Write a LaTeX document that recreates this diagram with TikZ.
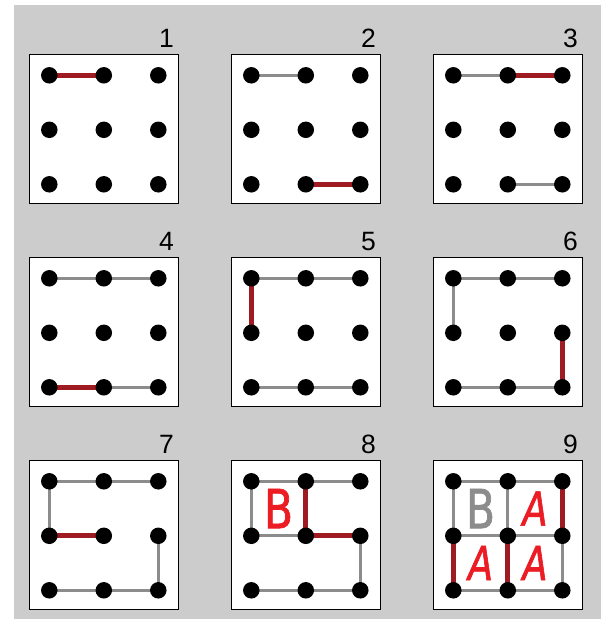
\documentclass[tikz,border=0pt]{standalone}
\usepackage{fontspec}
\setmainfont{Liberation Sans}
\newfontfamily\handfont[FakeStretch=0.78, FakeBold=1.3]{DejaVu Sans}
\usetikzlibrary{calc}
\definecolor{bggray}{RGB}{204,204,204}
\definecolor{oldgray}{RGB}{140,140,140}
\definecolor{newred}{RGB}{158,27,33}
\definecolor{markred}{RGB}{236,28,36}
\pgfdeclarelayer{boards}
\pgfdeclarelayer{edges}
\pgfsetlayers{boards,edges,main}
\begin{document}
\begin{tikzpicture}[x=1pt, y=-1pt,
    board/.style={draw=black, line width=1.3pt, fill=white, minimum size=149pt, inner sep=0pt},
    dot/.style={circle, fill=black, minimum size=16.5pt, inner sep=0pt},
    num/.style={anchor=base east, inner sep=0pt, font=\fontsize{26.5}{30}\selectfont},
    old/.style={draw=oldgray, line width=3pt},
    new/.style={draw=newred, line width=5pt},
    letter/.style={text=markred, inner sep=0pt},
    lettera/.style={letter, font=\handfont\itshape\fontsize{47}{47}\selectfont},
    letterb/.style={letter, font=\handfont\fontsize{54}{54}\selectfont}]
  \useasboundingbox (0,0) rectangle (603,619);
  \begin{pgfonlayer}{boards}
    \fill[bggray] (14,5) rectangle (601,619);
  \end{pgfonlayer}
  % boards, numbers and dots
  \foreach \k/\px/\py in {1/29.3/54.3, 2/231.3/54.3, 3/433.3/54.3,
                          4/29.3/257.3, 5/231.3/257.3, 6/433.3/257.3,
                          7/29.3/460.3, 8/231.3/460.3, 9/433.3/460.3} {
    \begin{pgfonlayer}{boards}
      \node[board] (b\k) at (\px+74.5,\py+74.5) {};
    \end{pgfonlayer}
    \node[num] (n\k) at ($(b\k.north east)+(-5,-6.3)$) {\k};
    \foreach \c in {0,1,2}
      \foreach \r in {0,1,2}
        \node[dot] (d\k-\c\r) at (\px+20+54.5*\c,\py+21+54.5*\r) {};
  }
  \begin{pgfonlayer}{edges}
    % 1
    \draw[new] (d1-00.center) -- (d1-10.center);
    % 2
    \draw[old] (d2-00.center) -- (d2-10.center);
    \draw[new] (d2-12.center) -- (d2-22.center);
    % 3
    \draw[old] (d3-00.center) -- (d3-10.center);
    \draw[new] (d3-10.center) -- (d3-20.center);
    \draw[old] (d3-12.center) -- (d3-22.center);
    % 4
    \draw[old] (d4-00.center) -- (d4-10.center) -- (d4-20.center);
    \draw[new] (d4-02.center) -- (d4-12.center);
    \draw[old] (d4-12.center) -- (d4-22.center);
    % 5
    \draw[old] (d5-00.center) -- (d5-10.center) -- (d5-20.center);
    \draw[new] (d5-00.center) -- (d5-01.center);
    \draw[old] (d5-02.center) -- (d5-12.center) -- (d5-22.center);
    % 6
    \draw[old] (d6-01.center) -- (d6-00.center) -- (d6-10.center) -- (d6-20.center);
    \draw[new] (d6-21.center) -- (d6-22.center);
    \draw[old] (d6-02.center) -- (d6-12.center) -- (d6-22.center);
    % 7
    \draw[old] (d7-01.center) -- (d7-00.center) -- (d7-10.center) -- (d7-20.center);
    \draw[new] (d7-01.center) -- (d7-11.center);
    \draw[old] (d7-21.center) -- (d7-22.center) -- (d7-12.center) -- (d7-02.center);
    % 8
    \draw[old] (d8-11.center) -- (d8-01.center) -- (d8-00.center) -- (d8-10.center) -- (d8-20.center);
    \draw[new] (d8-10.center) -- (d8-11.center) -- (d8-21.center);
    \draw[old] (d8-21.center) -- (d8-22.center) -- (d8-12.center) -- (d8-02.center);
    % 9
    \draw[old] (d9-01.center) -- (d9-00.center) -- (d9-10.center) -- (d9-20.center);
    \draw[old] (d9-10.center) -- (d9-11.center);
    \draw[old] (d9-01.center) -- (d9-11.center) -- (d9-21.center) -- (d9-22.center) -- (d9-12.center) -- (d9-02.center);
    \draw[new] (d9-20.center) -- (d9-21.center);
    \draw[new] (d9-01.center) -- (d9-02.center);
    \draw[new] (d9-11.center) -- (d9-12.center);
  \end{pgfonlayer}
  % letters
  \node[letterb] (l8b) at ($(d8-00)!0.5!(d8-11)$) {B};
  \node[letterb, text=oldgray] (l9b) at ($(d9-00)!0.5!(d9-11)$) {B};
  \node[lettera] (l9a1) at ($(d9-10)!0.5!(d9-21)$) {A};
  \node[lettera] (l9a2) at ($(d9-01)!0.5!(d9-12)$) {A};
  \node[lettera] (l9a3) at ($(d9-11)!0.5!(d9-22)$) {A};
\end{tikzpicture}
\end{document}
